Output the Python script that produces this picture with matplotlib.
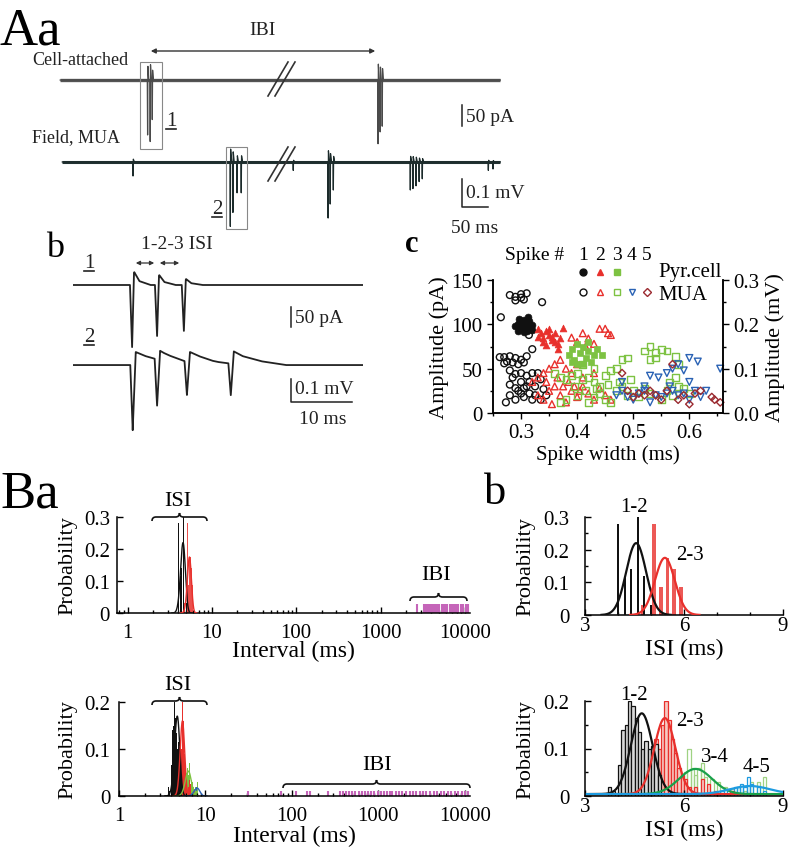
import numpy as np
import matplotlib
matplotlib.use("Agg")
import matplotlib.pyplot as plt
from matplotlib.path import Path
from matplotlib.patches import PathPatch, Rectangle
from matplotlib.ticker import FixedLocator, FixedFormatter, MultipleLocator

plt.rcParams['font.family'] = ['Liberation Serif', 'DejaVu Serif']
plt.rcParams['axes.linewidth'] = 1.1
plt.rcParams['xtick.labelsize'] = 15
plt.rcParams['ytick.labelsize'] = 15

W, H = 788, 853

# ---------------- Aa: cell-attached and field traces (spike times in ms)
cell_span = [10, 856]
cell_spk_t = [178, 183, 187, 621, 625, 629]
cell_spk_amp = [125, 140, 90, 145, 118, 105]          # pA
field_span = [14, 856]
field_spk_t = [150, 337, 342, 350, 358, 458, 525, 529, 535,
               683, 688, 694, 700, 706, 833, 842]
field_spk_amp = [0.05, 0.23, 0.18, 0.11, 0.11, 0.03, 0.20, 0.15, 0.10,
                 0.10, 0.095, 0.085, 0.07, 0.06, 0.03, 0.025]   # mV

# ---------------- b: expanded bursts
b_span = [0, 47.5]
b1_spk_t = [9.7, 13.8, 18.2]
b1_spk_amp = [207, 170, 153]        # pA
b1_after_amp = [43, 33, 20]
b2_spk_t = [9.8, 13.8, 18.7, 25.9]
b2_spk_amp = [0.31, 0.22, 0.157, 0.15]   # mV
b2_after_amp = [0.062, 0.045, 0.05, 0.06]

# ---------------- c: spike width (ms) vs amplitude (pA)
pyr1 = [(0.295, 100), (0.30, 103), (0.305, 98), (0.31, 101), (0.315, 96), (0.30, 95),
        (0.295, 93), (0.31, 92), (0.32, 99), (0.305, 105), (0.29, 98), (0.315, 104),
        (0.30, 99), (0.31, 97), (0.32, 94), (0.305, 91), (0.297, 106), (0.312, 108)]
pyr2 = [(0.33, 95), (0.335, 90), (0.34, 85), (0.345, 92), (0.35, 88), (0.355, 82),
        (0.36, 80), (0.365, 78), (0.34, 80), (0.35, 95), (0.345, 77), (0.355, 86),
        (0.36, 90), (0.37, 85), (0.33, 86), (0.365, 72), (0.375, 96)]
pyr3 = [(0.385, 65), (0.39, 72), (0.395, 60), (0.40, 78), (0.405, 68), (0.41, 75),
        (0.415, 62), (0.42, 70), (0.425, 58), (0.43, 65), (0.40, 55), (0.39, 57),
        (0.435, 72), (0.41, 55), (0.42, 80), (0.445, 65)]
mua1 = [(0.28, 133), (0.29, 131), (0.30, 134), (0.305, 128), (0.31, 135), (0.30, 130),
        (0.29, 127), (0.3375, 125), (0.264, 108),
        (0.262, 63), (0.27, 63), (0.28, 64), (0.29, 62), (0.30, 60), (0.31, 64),
        (0.275, 58), (0.285, 57), (0.295, 55), (0.305, 57), (0.27, 56), (0.32, 72),
        (0.314, 88), (0.273, 12), (0.28, 20), (0.29, 28), (0.30, 35), (0.31, 42),
        (0.32, 45), (0.285, 40), (0.295, 25), (0.305, 18), (0.315, 22), (0.325, 30),
        (0.335, 38), (0.34, 27), (0.345, 20), (0.31, 30), (0.32, 15), (0.30, 22),
        (0.29, 15), (0.28, 32), (0.33, 45), (0.325, 20), (0.335, 15), (0.30, 45),
        (0.28, 48), (0.29, 44), (0.315, 35), (0.305, 28)]
mua2 = [(0.39, 85), (0.40, 80), (0.41, 90), (0.42, 84), (0.43, 78), (0.44, 95),
        (0.45, 95), (0.455, 90), (0.46, 88), (0.415, 75), (0.37, 60), (0.36, 55),
        (0.35, 50), (0.34, 45), (0.33, 40), (0.38, 50), (0.39, 45), (0.40, 55),
        (0.41, 40), (0.43, 45), (0.32, 35), (0.33, 20), (0.34, 15), (0.35, 25),
        (0.355, 10), (0.36, 30), (0.37, 20), (0.38, 12), (0.39, 25), (0.40, 18),
        (0.41, 30), (0.42, 22), (0.43, 15), (0.44, 28), (0.45, 20), (0.46, 15),
        (0.345, 35), (0.365, 40), (0.375, 30), (0.385, 35), (0.395, 30), (0.405, 25)]
mua3 = [(0.36, 45), (0.37, 40), (0.38, 38), (0.39, 42), (0.40, 45), (0.41, 38),
        (0.42, 40), (0.43, 35), (0.44, 30), (0.45, 42), (0.46, 48), (0.47, 50),
        (0.48, 60), (0.49, 62), (0.52, 70), (0.53, 75), (0.54, 68), (0.55, 72),
        (0.56, 70), (0.575, 64), (0.58, 55), (0.54, 62), (0.53, 60), (0.37, 12),
        (0.38, 15), (0.40, 20), (0.42, 12), (0.43, 18), (0.44, 22), (0.45, 15),
        (0.46, 12), (0.47, 25), (0.48, 30), (0.49, 20), (0.50, 25), (0.51, 18),
        (0.52, 28), (0.53, 22), (0.55, 15), (0.56, 25), (0.57, 20), (0.58, 30),
        (0.59, 28), (0.60, 22), (0.395, 30), (0.415, 25), (0.435, 28), (0.455, 32),
        (0.475, 35), (0.575, 40), (0.565, 35), (0.495, 38), (0.41, 55), (0.43, 50)]
mua4 = [(0.47, 20), (0.48, 25), (0.49, 18), (0.50, 15), (0.51, 22), (0.52, 25),
        (0.53, 12), (0.54, 20), (0.55, 18), (0.56, 22), (0.57, 25), (0.58, 20),
        (0.59, 22), (0.60, 15), (0.61, 25), (0.62, 18), (0.63, 25), (0.48, 35),
        (0.52, 30), (0.56, 45), (0.57, 50), (0.58, 55), (0.59, 48), (0.60, 62),
        (0.615, 58), (0.655, 50), (0.545, 40), (0.53, 42), (0.565, 30), (0.60, 35)]
mua5 = [(0.48, 45), (0.49, 25), (0.51, 22), (0.53, 25), (0.54, 20), (0.55, 15),
        (0.56, 25), (0.57, 55), (0.58, 15), (0.59, 20), (0.60, 10), (0.61, 22),
        (0.62, 25), (0.64, 18), (0.645, 15), (0.655, 12), (0.50, 18), (0.52, 20)]

# ---------------- B: ISI histograms (bin centre ms, probability)
pyr_12 = [(4.0, 0.28), (4.2, 0.115), (4.4, 0.14), (4.6, 0.30), (4.8, 0.12), (5.0, 0.03)]
pyr_23 = [(4.75, 0.03), (5.1, 0.28), (5.3, 0.087), (5.5, 0.175), (5.7, 0.14), (5.9, 0.087)]
pyr_fits = [(4.55, 0.30, 0.22), (5.42, 0.30, 0.175)]     # mean, sd, peak

mua_12 = [(3.75, 0.02), (3.85, 0.01), (4.05, 0.065), (4.15, 0.14), (4.25, 0.15),
          (4.35, 0.20), (4.45, 0.19), (4.55, 0.165), (4.65, 0.135), (4.75, 0.10),
          (4.85, 0.115), (4.95, 0.10), (5.05, 0.105), (5.15, 0.11), (5.25, 0.045)]
mua_23 = [(4.35, 0.005), (4.55, 0.01), (4.75, 0.035), (4.85, 0.02), (4.95, 0.05),
          (5.05, 0.09), (5.15, 0.12), (5.25, 0.10), (5.35, 0.15), (5.45, 0.20),
          (5.55, 0.16), (5.65, 0.12), (5.75, 0.09), (5.85, 0.06), (5.95, 0.045),
          (6.05, 0.035), (6.15, 0.02), (6.35, 0.02), (6.55, 0.035), (6.75, 0.025),
          (6.95, 0.01), (7.45, 0.01)]
mua_34 = [(4.65, 0.005), (5.25, 0.01), (5.55, 0.02), (5.85, 0.03), (6.05, 0.05),
          (6.15, 0.10), (6.25, 0.06), (6.35, 0.045), (6.45, 0.06), (6.55, 0.07),
          (6.65, 0.04), (6.85, 0.035), (7.05, 0.03), (7.25, 0.02), (7.45, 0.015),
          (7.65, 0.02), (7.85, 0.01), (8.05, 0.03), (8.25, 0.03), (8.45, 0.04)]
mua_45 = [(4.45, 0.005), (5.05, 0.005), (7.15, 0.01), (7.35, 0.015), (7.55, 0.02),
          (7.65, 0.02), (7.75, 0.025), (7.85, 0.02), (7.95, 0.04), (8.05, 0.025),
          (8.25, 0.02), (8.45, 0.01)]
mua_fits = [(4.72, 0.33, 0.17), (5.42, 0.32, 0.16), (6.35, 0.50, 0.053), (8.0, 0.60, 0.017)]

ibi_pyr = [2700, 3300, 3500, 3700, 3900, 4100, 4300, 4500, 4800, 5000, 5300, 5600,
           5900, 6200, 6600, 7000, 7400, 7900, 8400, 9000, 9500, 10200, 10800]
ibi_mua = [31, 75, 112, 148, 160, 262, 360, 390, 420, 460, 500, 540, 590, 640, 700,
           760, 830, 900, 980, 1070, 1150, 1250, 1350, 1450, 1600, 1750, 1900, 2100,
           2300, 2500, 2700, 3000, 3300, 3600, 4000, 4400, 4800, 5300, 5800, 6400,
           7000, 7700, 8400, 9200, 10000, 11000]

BLACK, RED, GREEN, BLUE, DRED = '#111111', '#e8302c', '#7dc242', '#2a62b4', '#9b2a30'
MAG = '#c565b9'

fig = plt.figure(figsize=(W / 100, H / 100), dpi=100)


def box(l, t, r, b):
    return fig.add_axes([l / W, 1 - b / H, (r - l) / W, (b - t) / H])


def trace(span, times, amps, kt, kv):
    knots = [ti + k for ti in times for k in kt]
    t = np.sort(np.concatenate([np.linspace(span[0], span[1], 3000), knots]))
    y = np.zeros_like(t)
    for ti, a in zip(times, amps):
        y += a * np.interp(t - ti, kt, kv, left=0, right=0)
    return t, y


def gauss(x, m, s, p):
    return p * np.exp(-0.5 * ((x - m) / s) ** 2)


# ---- Aa traces (thick flat line stands in for the noisy baseline)
ax = box(55, 60, 505, 150)
t, y = trace(cell_span, cell_spk_t, cell_spk_amp, [-0.6, 0, 0.6, 2.0], [0, -1, 0.25, 0])
ax.plot(cell_span, [0, 0], color='#555555', lw=2.4, solid_capstyle='butt')
ax.plot(t, y, color='#4a4a4a', lw=0.9)
ax.set_xlim(0, 865); ax.set_ylim(-157, 48); ax.axis('off')

ax = box(55, 140, 505, 235)
t, y = trace(field_span, field_spk_t, field_spk_amp, [-0.6, 0, 0.6, 2.5], [0, -1, 0.2, 0])
ax.plot(field_span, [0, 0], color='#223232', lw=2.2, solid_capstyle='butt')
ax.plot(t, y, color='#1c2b2b', lw=0.9)
ax.set_xlim(0, 865); ax.set_ylim(-0.257, 0.082); ax.axis('off')

# ---- b traces
ax = box(73, 265, 363, 355)
t, y = trace(b_span, b1_spk_t, b1_spk_amp, [-0.35, 0, 0.3], [0, -1, 0])
t2, y2 = trace(b_span, b1_spk_t, b1_after_amp, [0, 0.35, 1.2, 3.0], [0, 1, 0.3, 0])
ax.plot(t, y + np.interp(t, t2, y2), color='#222222', lw=1.3)
ax.set_xlim(0, 47.6); ax.set_ylim(-230, 70); ax.axis('off')

ax = box(73, 340, 363, 440)
t, y = trace(b_span, b2_spk_t, b2_spk_amp, [-0.4, 0, 0.5], [0, -1, 0])
t2, y2 = trace(b_span, b2_spk_t, b2_after_amp, [0, 0.5, 2, 5, 9], [0, 1, 0.7, 0.3, 0])
ax.plot(t, y + np.interp(t, t2, y2), color='#222222', lw=1.3)
ax.set_xlim(0, 47.6); ax.set_ylim(-0.352, 0.124); ax.axis('off')

# ---- c scatter
axc = box(493, 281, 723, 414)
ms = 24
for pts, mk, col, filled in [(mua1, 'o', BLACK, False), (mua2, '^', RED, False),
                             (mua3, 's', GREEN, False), (mua4, 'v', BLUE, False),
                             (mua5, 'D', DRED, False), (pyr1, 'o', BLACK, True),
                             (pyr2, '^', RED, True), (pyr3, 's', GREEN, True)]:
    w, a = np.array(pts).T
    size = ms * (0.6 if mk == 'D' else 1)
    if filled:
        axc.scatter(w, a, s=size, marker=mk, color=col, linewidths=0.5, clip_on=False)
    else:
        axc.scatter(w, a, s=size, marker=mk, facecolors='none', edgecolors=col,
                    linewidths=1.0, clip_on=False)
axc.set_xlim(0.25, 0.66); axc.set_ylim(0, 150)
axc.set_xticks([0.3, 0.4, 0.5, 0.6]); axc.set_yticks([0, 50, 100, 150])
axc.xaxis.set_minor_locator(MultipleLocator(0.05))
axc.yaxis.set_minor_locator(MultipleLocator(25))
axc.spines['top'].set_visible(False)
axc.tick_params(which='both', direction='out', length=4, width=1.0)
axc.tick_params(which='minor', length=2.5)
axc.set_xlabel('Spike width (ms)', fontsize=15, labelpad=1)
axc.set_ylabel('Amplitude (pA)', fontsize=16, labelpad=2)
axr = axc.twinx()
axr.set_ylim(0, 0.3); axr.set_yticks([0, 0.1, 0.2, 0.3])
axr.set_yticklabels(['0.0', '0.1', '0.2', '0.3'])
axr.yaxis.set_minor_locator(MultipleLocator(0.05))
axr.spines['top'].set_visible(False)
axr.tick_params(which='both', direction='out', length=4, width=1.0)
axr.tick_params(which='minor', length=2.5)
axr.set_ylabel('Amplitude (mV)', fontsize=16, labelpad=4)


def style_b(ax, ymax, yt, xpad, ypad, lpad):
    ax.set_ylim(0, ymax)
    ax.spines['top'].set_visible(False); ax.spines['right'].set_visible(False)
    ax.yaxis.set_major_locator(FixedLocator(yt))
    ax.yaxis.set_major_formatter(FixedFormatter(['0'] + ['%g' % v for v in yt[1:]]))
    ax.tick_params(which='both', direction='in', length=4, width=1.0)
    ax.tick_params(which='minor', length=2.5)
    ax.tick_params(axis='x', pad=xpad)
    ax.tick_params(axis='y', pad=ypad)
    ax.set_ylabel('Probability', fontsize=16, labelpad=lpad)


def bars(ax, pts, width, **kw):
    x, h = np.array(pts).T
    ax.bar(x, h, width=width, **kw)


# ---- Ba top (log scale)
ax = box(117, 518, 470, 614)
ax.set_xscale('log')
bars(ax, pyr_12, 0.1, color=BLACK, zorder=3)
bars(ax, pyr_23, 0.18, color=RED, alpha=0.85, zorder=2)
for (m, s, p), col in zip(pyr_fits, [BLACK, RED]):
    xx = np.linspace(m - 4 * s, m + 4 * s, 300)
    ax.plot(xx, gauss(xx, m, s, p), color=col, lw=1.0, zorder=4)
ax.vlines(ibi_pyr, 0, 0.028, color=MAG, lw=1.5)
ax.set_xlim(0.75, 11500)
style_b(ax, 0.3, [0, 0.1, 0.2, 0.3], 7, 5, 5)
ax.set_xticks([1, 10, 100, 1000, 10000]); ax.set_xticklabels(['1', '10', '100', '1000', '10000'])
ax.set_xlabel('Interval (ms)', fontsize=17, labelpad=-1)

# ---- Ba bottom (log scale)
ax = box(119, 703, 470, 797)
ax.set_xscale('log')
for pts, col in [(mua_45, BLUE), (mua_34, GREEN), (mua_23, RED), (mua_12, BLACK)]:
    bars(ax, pts, 0.1, color=col)
for (m, s, p), col in zip(mua_fits, [BLACK, RED, GREEN, BLUE]):
    xx = np.linspace(m - 4 * s, m + 4 * s, 300)
    ax.plot(xx, gauss(xx, m, s, p), color=col, lw=1.0)
ax.vlines(ibi_mua, 0, 0.011, color=MAG, lw=1.5)
ax.set_xlim(1, 11500)
style_b(ax, 0.2, [0, 0.1, 0.2], 7, 6, 5)
ax.set_xticks([1, 10, 100, 1000, 10000]); ax.set_xticklabels(['1', '10', '100', '1000', '10000'])
ax.set_xlabel('Interval (ms)', fontsize=17, labelpad=0)

# ---- Bb top
ax = box(585, 518, 783, 616)
bars(ax, pyr_12, 0.06, color=BLACK, zorder=3)
bars(ax, pyr_23, 0.12, color=RED, alpha=0.8, zorder=2)
for (m, s, p), col in zip(pyr_fits, [BLACK, RED]):
    xx = np.linspace(m - 3.5 * s, m + 3.5 * s, 300)
    ax.plot(xx, gauss(xx, m, s, p), color=col, lw=1.6, zorder=4)
ax.set_xlim(3, 9); ax.set_xticks([3, 6, 9])
ax.xaxis.set_minor_locator(MultipleLocator(1)); ax.yaxis.set_minor_locator(MultipleLocator(0.05))
style_b(ax, 0.3, [0, 0.1, 0.2, 0.3], 1, 11, 6)
ax.set_xlabel('ISI (ms)', fontsize=17, labelpad=2)

# ---- Bb bottom
ax = box(585, 702, 783, 797)
for pts, ec, fc in [(mua_34, '#9fd283', 'none'), (mua_45, '#1e9be0', 'none'),
                    (mua_23, RED, '#f6c9c2'), (mua_12, BLACK, '#d8d8d8')]:
    bars(ax, pts, 0.1, facecolor=fc, edgecolor=ec, linewidth=0.9)
xx = np.linspace(3, 9, 400)
for (m, s, p), col in zip(mua_fits, [BLACK, RED, '#19a04a', '#1e9be0']):
    ax.plot(xx, gauss(xx, m, s, p) + 0.004, color=col, lw=1.6)
ax.set_xlim(3, 9); ax.set_xticks([3, 6, 9])
ax.xaxis.set_minor_locator(MultipleLocator(1)); ax.yaxis.set_minor_locator(MultipleLocator(0.05))
style_b(ax, 0.2, [0, 0.1, 0.2], 1, 11, 6)
ax.set_xlabel('ISI (ms)', fontsize=17, labelpad=2)

# ---------------- overlay: labels, boxes, scale bars, braces
ov = fig.add_axes([0, 0, 1, 1], zorder=10)
ov.set_xlim(0, W); ov.set_ylim(H, 0); ov.axis('off')
ov.patch.set_alpha(0)

txt = dict(color='#222222', fontsize=14)
ov.text(0, 44, 'Aa', fontsize=38, va='baseline')
ov.text(0, 508, 'Ba', fontsize=38, va='baseline')
ov.text(484, 504, 'b', fontsize=32, va='baseline')
ov.text(46, 257, 'b', fontsize=26, va='baseline')
ov.text(405, 252, 'c', fontsize=22, fontweight='bold', va='baseline')

ov.text(262, 30, 'IBI', ha='center', va='center', **txt)
ov.annotate('', xy=(378, 52), xytext=(148, 52),
            arrowprops=dict(arrowstyle='<|-|>', color='#333333', lw=1.0, mutation_scale=7))
ov.text(32, 60, 'Cell-attached', ha='left', va='center', color='#222222', fontsize=13)
ov.text(32, 138, 'Field, MUA', ha='left', va='center', color='#222222', fontsize=13)
ov.add_patch(Rectangle((140, 63), 22, 87, fill=False, ec='#888888', lw=0.8))
ov.add_patch(Rectangle((226, 148), 21, 82, fill=False, ec='#888888', lw=0.8))


def underlined(x, y, s):
    ov.text(x, y, s, ha='center', va='baseline', fontsize=15, color='#222222')
    ov.plot([x - 5, x + 5], [y + 4, y + 4], color='#222222', lw=1.2)


underlined(171, 126, '1')
underlined(217, 214, '2')
underlined(89, 268, '1')
underlined(89, 342, '2')

for y0, y1 in [(97, 63), (182, 148)]:
    for dx in (0, 7):
        ov.plot([268 + dx, 288 + dx], [y0, y1], color='#333333', lw=1.2)

# scale bars
ov.plot([462, 462], [106, 127], color='#222222', lw=1.1)
ov.text(466, 117, '50 pA', ha='left', va='center', **txt)
ov.plot([462, 462, 488], [180, 208, 208], color='#222222', lw=1.1)
ov.text(466, 193, '0.1 mV', ha='left', va='center', **txt)
ov.text(475, 228, '50 ms', ha='center', va='center', **txt)

ov.text(177, 244, '1-2-3 ISI', ha='center', va='center', **txt)
for xa, xb in [(133, 157), (157, 182)]:
    ov.annotate('', xy=(xb, 264), xytext=(xa, 264),
                arrowprops=dict(arrowstyle='<|-|>', color='#333333', lw=0.9, mutation_scale=6))
ov.plot([291, 291], [308, 328], color='#222222', lw=1.1)
ov.text(295, 318, '50 pA', ha='left', va='center', **txt)
ov.plot([291, 291, 352], [380, 403, 403], color='#222222', lw=1.1)
ov.text(295, 390, '0.1 mV', ha='left', va='center', **txt)
ov.text(323, 420, '10 ms', ha='center', va='center', **txt)

# c legend
ov.text(505, 255, 'Spike #', ha='left', va='center', fontsize=14)
for xk, d in zip([583, 600, 617, 632, 647], '12345'):
    ov.text(xk, 255, d, ha='center', va='center', fontsize=14)
for xk, mk, col in [(583, 'o', BLACK), (600, '^', RED), (617, 's', GREEN)]:
    ov.plot(xk, 273, marker=mk, color=col, ms=5, ls='none')
for xk, mk, col in [(583, 'o', BLACK), (600, '^', RED), (617, 's', GREEN),
                    (632, 'v', BLUE), (647, 'D', DRED)]:
    ov.plot(xk, 293, marker=mk, mfc='none', mec=col, ms=5 if mk != 'D' else 3.8, mew=1.0, ls='none')
ov.text(658, 272, 'Pyr.cell', ha='left', va='center', fontsize=15)
ov.text(658, 295, 'MUA', ha='left', va='center', fontsize=15)


def brace(x0, x1, y, h=4):
    xm = (x0 + x1) / 2
    verts = [(x0, y + h), (x0, y), (x0 + h, y), (xm - h, y), (xm, y), (xm, y - h),
             (xm, y), (xm + h, y), (x1 - h, y), (x1, y), (x1, y + h)]
    codes = [Path.MOVETO, Path.CURVE3, Path.CURVE3, Path.LINETO, Path.CURVE3, Path.CURVE3,
             Path.CURVE3, Path.CURVE3, Path.LINETO, Path.CURVE3, Path.CURVE3]
    ov.add_patch(PathPatch(Path(verts, codes), fill=False, ec='#111111', lw=1.2))


brace(152, 207, 518)
ov.text(178, 501, 'ISI', ha='center', va='center', fontsize=16)
brace(410, 467, 598)
ov.text(436, 575, 'IBI', ha='center', va='center', fontsize=16)
brace(152, 207, 702)
ov.text(178, 686, 'ISI', ha='center', va='center', fontsize=16)
brace(283, 470, 785)
ov.text(377, 765, 'IBI', ha='center', va='center', fontsize=16)

ov.text(634, 508, '1-2', ha='center', va='center', fontsize=15)
ov.text(690, 556, '2-3', ha='center', va='center', fontsize=15)
ov.text(634, 696, '1-2', ha='center', va='center', fontsize=15)
ov.text(690, 722, '2-3', ha='center', va='center', fontsize=15)
ov.text(715, 757, '3-4', ha='center', va='center', fontsize=15)
ov.text(757, 768, '4-5', ha='center', va='center', fontsize=15)

fig.savefig('out.png', dpi=100)
